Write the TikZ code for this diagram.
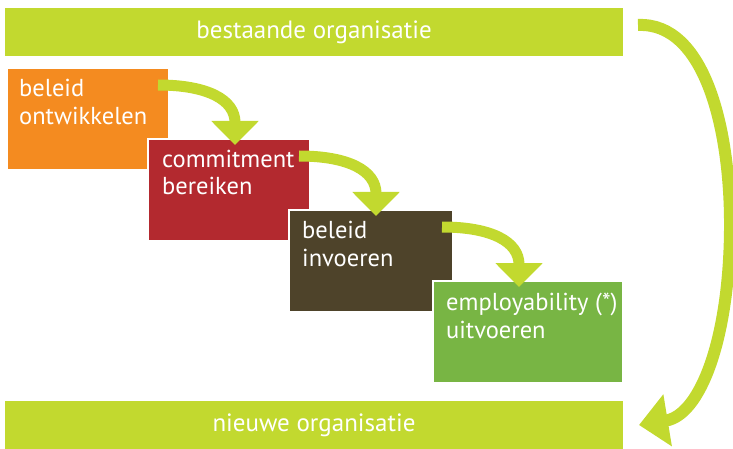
\documentclass[tikz,border=0pt]{standalone}
\usepackage{fontspec}
\setmainfont{PT Sans}
\usetikzlibrary{arrows.meta,positioning}

\definecolor{limoen}{HTML}{C2D92F}
\definecolor{oranje}{HTML}{F48B20}
\definecolor{rood}{HTML}{B3292F}
\definecolor{bruin}{HTML}{4E432A}
\definecolor{groen}{HTML}{78B544}

\begin{document}
\begin{tikzpicture}[x=1pt,y=1pt,
  balk/.style={fill=limoen, minimum width=618pt, minimum height=48pt,
    inner sep=0pt, outer sep=0pt, text=white,
    font=\fontsize{25}{28}\selectfont},
  stap/.style={draw=white, line width=1.5pt, minimum width=162pt,
    minimum height=102pt, inner sep=0pt, outer sep=0pt},
  staptekst/.style={anchor=base west, inner sep=0pt, align=left,
    text=white, font=\fontsize{24.5}{28}\selectfont},
  pijl/.style={draw=limoen, line width=11pt,
    -{Triangle[width=46pt,length=24pt]}},
  grotepijl/.style={draw=limoen, line width=12pt,
    -{Triangle[width=51pt,length=29pt]}}]

\useasboundingbox (0,0) rectangle (733,-449);

% de twee balken
\node[balk] (oud) at (314,-32) {bestaande organisatie};
\node[balk] (nieuw) at (314,-425) {nieuwe organisatie};

% de trap met stappen
\node[stap, fill=oranje, anchor=north west] (ontw) at (7,-68) {};
\node[stap, fill=rood, below right=-31pt and -21pt of ontw] (comm) {};
\node[stap, fill=bruin, below right=-31pt and -21pt of comm, minimum width=164pt] (invoer) {};
\node[stap, fill=groen, below right=-31pt and -20pt of invoer, minimum width=190pt] (empl) {};

% base = tweede regel
\node[staptekst] at ([shift={(12pt,-57pt)}]ontw.north west) {beleid\\ontwikkelen};
\node[staptekst] at ([shift={(14pt,-56pt)}]comm.north west) {commitment\\bereiken};
\node[staptekst] at ([shift={(13pt,-56pt)}]invoer.north west) {beleid\\invoeren};
\node[staptekst] at ([shift={(13pt,-57pt)}]empl.north west) {employability (*)\\uitvoeren};

% pijlen tussen de stappen
\draw[pijl] ([shift={(-11pt,-17pt)}]ontw.north east)
  .. controls +(50pt,0pt) and +(0pt,45pt) .. ([shift={(87pt,-6pt)}]comm.north west);
\draw[pijl] ([shift={(-11pt,-17pt)}]comm.north east)
  .. controls +(50pt,0pt) and +(0pt,45pt) .. ([shift={(87pt,-6pt)}]invoer.north west);
\draw[pijl] ([shift={(-11pt,-17pt)}]invoer.north east)
  .. controls +(50pt,0pt) and +(0pt,45pt) .. ([shift={(86pt,-6pt)}]empl.north west);

% van bestaand naar nieuw
\coordinate (start) at ([shift={(15pt,7pt)}]oud.east);
\coordinate (eind) at ([shift={(16pt,0pt)}]nieuw.east);
\draw[grotepijl] (start) .. controls +(67pt,3pt) and (731,-130) .. (730,-230)
  .. controls (729,-340) and (700,-415) .. (eind);

\end{tikzpicture}
\end{document}
